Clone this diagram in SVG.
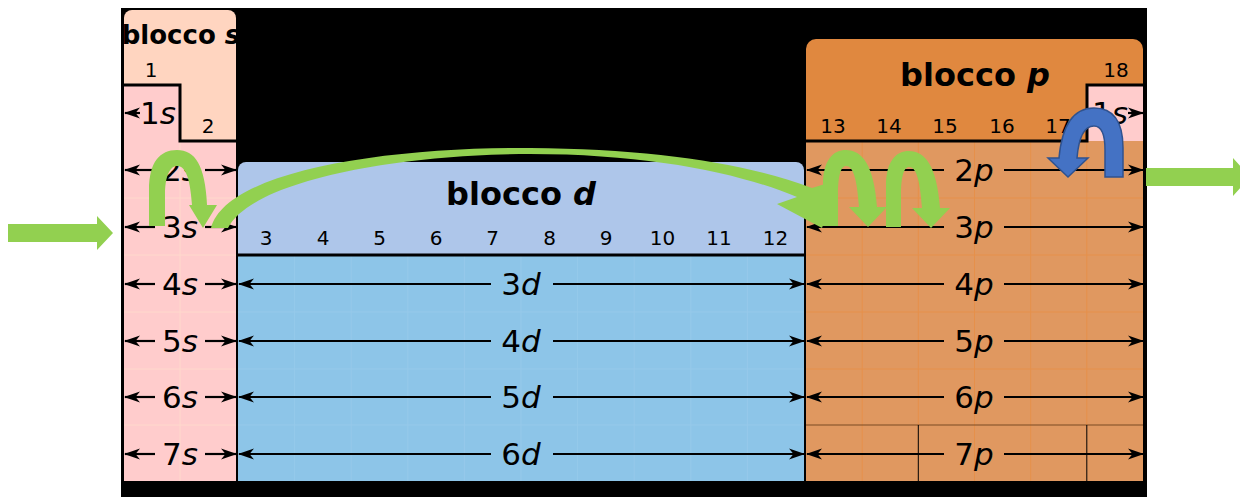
<svg xmlns="http://www.w3.org/2000/svg" width="1240" height="497" viewBox="0 0 1240 497">
  <style>
    .t { font-family: "DejaVu Sans", "Liberation Sans", sans-serif; fill: #000; }
    .hdr { font-weight: bold; font-size: 32px; text-anchor: middle; }
    .num { font-size: 20px; text-anchor: middle; }
    .orb { font-size: 31px; text-anchor: middle; }
    .it { font-style: italic; }
    .arr { stroke: #000; stroke-width: 2.2; fill: none; marker-end: url(#head); }
    .edge { stroke: #000; stroke-width: 3; fill: none; }
    .gs { stroke: #ffd9cc; stroke-width: 1; }
    .gd { stroke: #96c9ea; stroke-width: 1; }
    .gp { stroke: #e6904a; stroke-width: 1; }
    .green { fill: #92d050; }
    .blue { fill: #4472c4; stroke: #2f528f; stroke-width: 1.5; }
  </style>
  <defs>
    <marker id="head" viewBox="0 0 16 12" refX="15" refY="6" markerWidth="16" markerHeight="12" markerUnits="userSpaceOnUse" orient="auto">
      <path d="M0,0.5 L16,6 L0,11.5 L4.5,6 Z" fill="#000"/>
    </marker>
    <!-- U-turn arrow used in the p block -->
    <path id="uturn" d="M823,226 L823,185 C823,160 833,150 846,150 C862,150 874,165 877,207 L887,207 L868,227 L849,207 L859,207 C857,178 853,166 846,166 C841,166 838,175 838,195 L838,226 Z"/>
  </defs>

  <!-- backdrop -->
  <rect x="121" y="8" width="1026" height="489" fill="#000"/>

  <!-- s block -->
  <g id="block-s">
    <rect x="124" y="10" width="112" height="471" rx="8" fill="#ffd5c0"/>
    <path d="M124,85 H180 V141 H236 V481 H124 Z" fill="#ffcccc"/>
    <g class="gs">
      <line x1="180" y1="141" x2="180" y2="481"/>
      <line x1="124" y1="198" x2="236" y2="198"/>
      <line x1="124" y1="255" x2="236" y2="255"/>
      <line x1="124" y1="312" x2="236" y2="312"/>
      <line x1="124" y1="369" x2="236" y2="369"/>
      <line x1="124" y1="425" x2="236" y2="425"/>
    </g>
    <path class="edge" d="M124,85 H180 V141 H236"/>
    <text class="t hdr" x="181" y="44" style="font-size:26px">blocco <tspan class="it">s</tspan></text>
    <text class="t num" x="151" y="77">1</text>
    <text class="t num" x="208" y="133">2</text>
  </g>

  <!-- d block -->
  <g id="block-d">
    <rect x="238" y="162" width="566" height="110" rx="8" fill="#aec6ea"/>
    <rect x="238" y="255" width="566" height="226" fill="#8dc5e8"/>
    <g class="gd">
      <line x1="294.6" y1="256" x2="294.6" y2="481"/>
      <line x1="351.2" y1="256" x2="351.2" y2="481"/>
      <line x1="407.8" y1="256" x2="407.8" y2="481"/>
      <line x1="464.4" y1="256" x2="464.4" y2="481"/>
      <line x1="521" y1="256" x2="521" y2="481"/>
      <line x1="577.6" y1="256" x2="577.6" y2="481"/>
      <line x1="634.2" y1="256" x2="634.2" y2="481"/>
      <line x1="690.8" y1="256" x2="690.8" y2="481"/>
      <line x1="747.4" y1="256" x2="747.4" y2="481"/>
      <line x1="238" y1="312" x2="804" y2="312"/>
      <line x1="238" y1="369" x2="804" y2="369"/>
      <line x1="238" y1="425" x2="804" y2="425"/>
    </g>
    <line class="edge" x1="238" y1="255" x2="804" y2="255"/>
    <text class="t hdr" x="521" y="205">blocco <tspan class="it">d</tspan></text>
    <g class="t num">
      <text x="266" y="245">3</text>
      <text x="323" y="245">4</text>
      <text x="379.5" y="245">5</text>
      <text x="436" y="245">6</text>
      <text x="492.5" y="245">7</text>
      <text x="549.5" y="245">8</text>
      <text x="606" y="245">9</text>
      <text x="662.5" y="245">10</text>
      <text x="719" y="245">11</text>
      <text x="775.5" y="245">12</text>
    </g>
  </g>

  <!-- p block -->
  <g id="block-p">
    <rect x="806" y="39" width="337" height="120" rx="10" fill="#e0883f"/>
    <rect x="806" y="141" width="337" height="340" fill="#e09860"/>
    <rect x="1087" y="85" width="56" height="56" fill="#ffcccc"/>
    <g class="gp">
      <line x1="862.2" y1="141" x2="862.2" y2="481"/>
      <line x1="918.3" y1="141" x2="918.3" y2="425"/>
      <line x1="974.5" y1="141" x2="974.5" y2="481"/>
      <line x1="1030.7" y1="141" x2="1030.7" y2="481"/>
      <line x1="1086.8" y1="141" x2="1086.8" y2="425"/>
      <line x1="806" y1="198" x2="1143" y2="198"/>
      <line x1="806" y1="255" x2="1143" y2="255"/>
      <line x1="806" y1="312" x2="1143" y2="312"/>
      <line x1="806" y1="369" x2="1143" y2="369"/>
    </g>
    <line x1="806" y1="425" x2="1143" y2="425" stroke="#7a4a22" stroke-width="1"/>
    <line x1="918.3" y1="425" x2="918.3" y2="481" stroke="#000" stroke-width="1"/>
    <line x1="1086.8" y1="425" x2="1086.8" y2="481" stroke="#000" stroke-width="1"/>
    <path class="edge" d="M806,141 H1087 V85 H1143"/>
    <text class="t hdr" x="975" y="86">blocco <tspan class="it">p</tspan></text>
    <g class="t num">
      <text x="833" y="133">13</text>
      <text x="889" y="133">14</text>
      <text x="945" y="133">15</text>
      <text x="1002" y="133">16</text>
      <text x="1058" y="133">17</text>
      <text x="1116" y="77">18</text>
    </g>
  </g>

  <!-- orbital rows: double arrows with labels -->
  <g id="orbitals">
    <path class="arr" d="M140,113 H125"/>
    <text class="t orb" x="158" y="124">1<tspan class="it">s</tspan></text>
    <path class="arr" d="M1128,113 H1143"/>
    <text class="t orb" x="1110" y="124">1<tspan class="it">s</tspan></text>

    <g id="row-s">
      <path class="arr" d="M155,170 H125"/><path class="arr" d="M205,170 H236"/>
      <text class="t orb" x="180" y="181">2<tspan class="it">s</tspan></text>
      <path class="arr" d="M155,227 H125"/><path class="arr" d="M205,227 H236"/>
      <text class="t orb" x="180" y="238">3<tspan class="it">s</tspan></text>
      <path class="arr" d="M155,284 H125"/><path class="arr" d="M205,284 H236"/>
      <text class="t orb" x="180" y="295">4<tspan class="it">s</tspan></text>
      <path class="arr" d="M155,341 H125"/><path class="arr" d="M205,341 H236"/>
      <text class="t orb" x="180" y="352">5<tspan class="it">s</tspan></text>
      <path class="arr" d="M155,397 H125"/><path class="arr" d="M205,397 H236"/>
      <text class="t orb" x="180" y="408">6<tspan class="it">s</tspan></text>
      <path class="arr" d="M155,454 H125"/><path class="arr" d="M205,454 H236"/>
      <text class="t orb" x="180" y="465">7<tspan class="it">s</tspan></text>
    </g>

    <g id="row-d">
      <path class="arr" d="M491,284 H239"/><path class="arr" d="M553,284 H804"/>
      <text class="t orb" x="521" y="295">3<tspan class="it">d</tspan></text>
      <path class="arr" d="M491,341 H239"/><path class="arr" d="M553,341 H804"/>
      <text class="t orb" x="521" y="352">4<tspan class="it">d</tspan></text>
      <path class="arr" d="M491,397 H239"/><path class="arr" d="M553,397 H804"/>
      <text class="t orb" x="521" y="408">5<tspan class="it">d</tspan></text>
      <path class="arr" d="M491,454 H239"/><path class="arr" d="M553,454 H804"/>
      <text class="t orb" x="521" y="465">6<tspan class="it">d</tspan></text>
    </g>

    <g id="row-p">
      <path class="arr" d="M944,170 H807"/><path class="arr" d="M1004,170 H1143"/>
      <text class="t orb" x="974" y="181">2<tspan class="it">p</tspan></text>
      <path class="arr" d="M944,227 H807"/><path class="arr" d="M1004,227 H1143"/>
      <text class="t orb" x="974" y="238">3<tspan class="it">p</tspan></text>
      <path class="arr" d="M944,284 H807"/><path class="arr" d="M1004,284 H1143"/>
      <text class="t orb" x="974" y="295">4<tspan class="it">p</tspan></text>
      <path class="arr" d="M944,341 H807"/><path class="arr" d="M1004,341 H1143"/>
      <text class="t orb" x="974" y="352">5<tspan class="it">p</tspan></text>
      <path class="arr" d="M944,397 H807"/><path class="arr" d="M1004,397 H1143"/>
      <text class="t orb" x="974" y="408">6<tspan class="it">p</tspan></text>
      <path class="arr" d="M944,454 H807"/><path class="arr" d="M1004,454 H1143"/>
      <text class="t orb" x="974" y="465">7<tspan class="it">p</tspan></text>
    </g>
  </g>

  <!-- filling-order arrows -->
  <g id="connectors">
    <path id="enter" class="green" d="M8,224 H97 V216 L113,233 L97,250 V242 H8 Z"/>
    <path id="exit" class="green" d="M1146,168 H1233 V158 L1250,177 L1233,196 V186 H1146 Z"/>
    <path id="s-turn" class="green" d="M149,226 L149,190 C149,162 160,150 177,150 C195,150 205,165 207,205 L217,205 L203,228 L189,205 L192,205 C190,176 185,166 177,166 C170,166 165,176 165,195 L165,226 Z"/>
    <path id="d-jump" class="green" d="M211,228 C226,170 390,147 530,148 C655,149 745,163 812,188 L838,180 L822,228 L777,204 L797,197 C742,174 652,154 530,154 C400,154 252,180 228,228 Z"/>
    <use id="p-turn-1" href="#uturn" class="green"/>
    <use id="p-turn-2" href="#uturn" class="green" transform="translate(63,1)"/>
    <path id="he-turn" class="blue" d="M1123,177 L1123,148 C1123,120 1112,108 1094,108 C1074,108 1062,125 1059,158 L1048,158 L1068,177 L1088,158 L1077,158 C1079,134 1085,126 1094,126 C1102,126 1105,135 1105,150 L1105,177 Z"/>
  </g>
</svg>
